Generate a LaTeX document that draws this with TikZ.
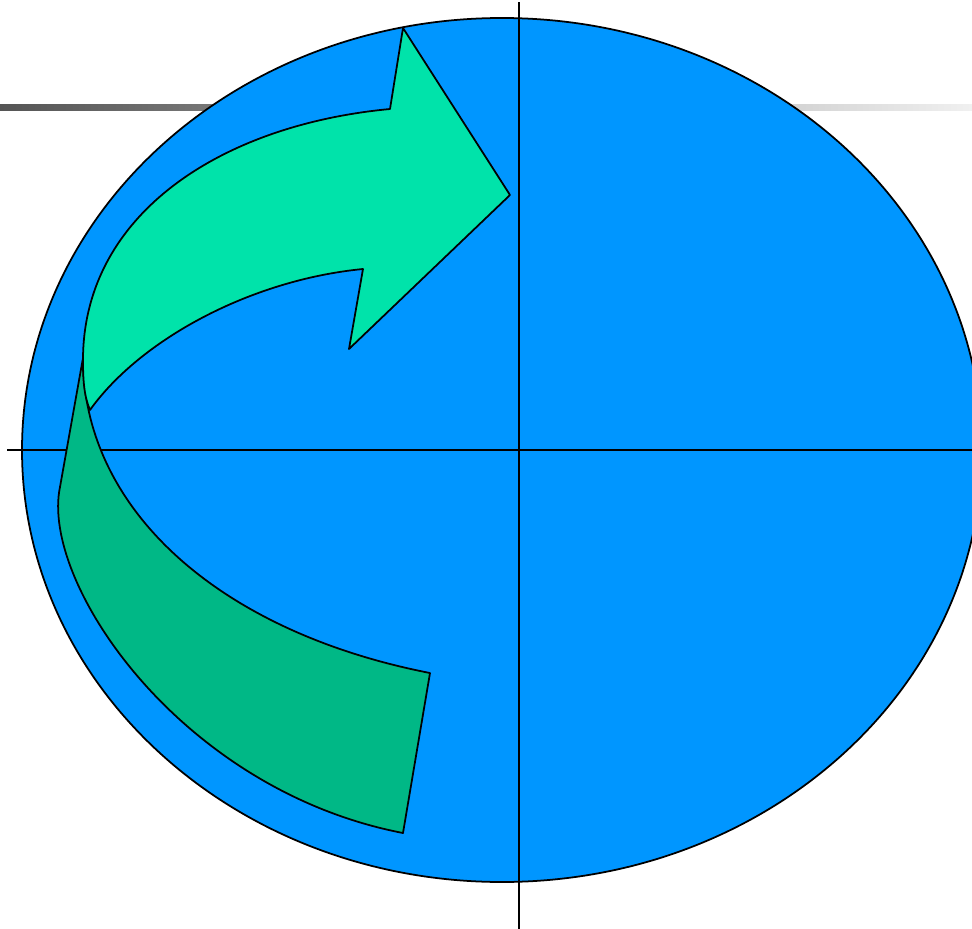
\documentclass[tikz,border=0pt]{standalone}
\begin{document}
\begin{tikzpicture}[x=0.3mm,y=-0.3mm,line join=round]
\definecolor{ellblue}{RGB}{0,150,255}
\definecolor{frontgreen}{RGB}{0,227,170}
\definecolor{backgreen}{RGB}{0,184,134}
\definecolor{bardark}{RGB}{85,85,85}
\definecolor{barlight}{RGB}{240,240,240}
\tikzset{outline/.style={draw=black,line width=1.5pt},
         axisline/.style={draw=black,line width=1.5pt}}
\useasboundingbox (0,0) rectangle (972,929);
% gradient bar behind the ellipse
\shade[left color=bardark,right color=barlight] (0,104) rectangle (972,110);
% ellipse
\begin{scope}
\clip (0,0) rectangle (972,929);
\path[outline,fill=ellblue] (502,450) ellipse [x radius=480,y radius=432];
\end{scope}
% axes
\coordinate (vtop) at (519,2);
\coordinate (vbot) at (519,929);
\coordinate (hl) at (7,450);
\coordinate (hr) at (972,450);
\draw[axisline] (vtop) -- (vbot);
\draw[axisline] (hl) -- (hr);
% back (dark green) part of the arrow
\path[outline,fill=backgreen]
  (430,673) .. controls (220,632) and (83,510) .. (83,358)
  -- (60,487)
  .. controls (40,582) and (180,790) .. (403,833)
  -- cycle;
% front (light green) part with the head
\path[outline,fill=frontgreen]
  (90,410) .. controls (84,396) and (83,380) .. (83,360)
  .. controls (83,215) and (220,125) .. (390,109)
  -- (403,28) -- (510,195) -- (349,349) -- (363,269)
  .. controls (250,280) and (140,340) .. (90,410)
  -- cycle;
\end{tikzpicture}
\end{document}
